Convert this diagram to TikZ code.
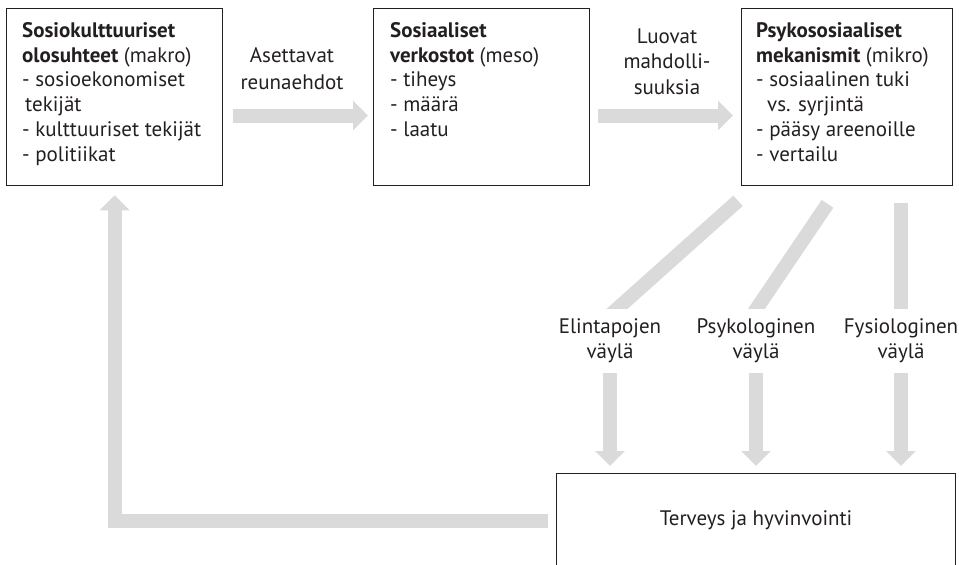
\documentclass[tikz,border=0pt]{standalone}
\usepackage{fontspec}
\setmainfont{PT Sans}
\usetikzlibrary{arrows.meta,calc}

\definecolor{shaft}{HTML}{DADADA}
\definecolor{ink}{HTML}{231F20}

\tikzset{
  frame/.style={draw=ink, line width=1.3pt, inner sep=0pt, anchor=north west},
  body/.style={anchor=north west, inner sep=0pt, align=left, text=ink,
    font=\fontsize{21}{24.8}\selectfont},
  lbl/.style={anchor=north, inner sep=0pt, align=center, text=ink},
  bar/.style={draw=shaft, line width=14pt},
  flow/.style={bar, -{Triangle[width=29pt,length=15pt]}}
}

\begin{document}
\begin{tikzpicture}[x=1pt, y=-1pt]
\useasboundingbox (0,0) rectangle (959,565);

% three level boxes
\node[frame, minimum width=216pt, minimum height=177pt] (macro) at (6,8) {};
\node[frame, minimum width=216pt, minimum height=177pt] (meso)  at (373,8) {};
\node[frame, minimum width=211pt, minimum height=177pt] (micro) at (741,8) {};

\node[body] (macrotxt) at ($(macro.north west)+(16,0)$)
  {\rule{0pt}{29pt}\textbf{Sosiokulttuuriset}\\
   \textbf{olosuhteet} (makro)\\
   - sosioekonomiset\\
   \hspace*{3pt}tekijät\\
   - kulttuuriset tekijät\\
   - politiikat};
\node[body] (mesotxt) at ($(meso.north west)+(17,0)$)
  {\rule{0pt}{29pt}\textbf{Sosiaaliset}\\
   \textbf{verkostot} (meso)\\
   - tiheys\\
   - määrä\\
   - laatu};
\node[body] (microtxt) at ($(micro.north west)+(15,0)$)
  {\rule{0pt}{29pt}\textbf{Psykososiaaliset}\\
   \textbf{mekanismit} (mikro)\\
   - sosiaalinen tuki\\
   \hspace*{11pt}vs. syrjintä\\
   - pääsy areenoille\\
   - vertailu};

% outcome box (runs off the lower edge)
\node[frame, minimum width=399pt, minimum height=94pt, text=ink,
      font=\fontsize{21}{25}\selectfont] (health) at (556,473)
  {Terveys ja hyvinvointi};

% arrow labels
\node[lbl, font=\fontsize{21}{27}\selectfont] (setlbl) at (292,42)
  {\rule{0pt}{20pt}Asettavat\\reunaehdot};
\node[lbl, font=\fontsize{21}{25.5}\selectfont] (optlbl) at (667,23)
  {\rule{0pt}{20pt}Luovat\\mahdolli-\\suuksia};
\node[lbl, font=\fontsize{21}{25}\selectfont] (lifelbl) at (610,313)
  {\rule{0pt}{20pt}Elintapojen\\väylä};
\node[lbl, font=\fontsize{21}{25}\selectfont] (psylbl) at (756,313)
  {\rule{0pt}{20pt}Psykologinen\\väylä};
\node[lbl, font=\fontsize{21}{25}\selectfont] (fyslbl) at (901,313)
  {\rule{0pt}{20pt}Fysiologinen\\väylä};

% macro -> meso -> micro
\draw[flow] ($(macro.north east)+(10,107.5)$) -- ($(meso.north west)+(-5,107.5)$);
\draw[flow] ($(meso.north east)+(8,107.5)$) -- ($(micro.north west)+(-8,107.5)$);

% pathway bars leaving the micro box, cut level above the labels
\coordinate (aTop) at ($(micro.south west)+(-3,14.5)$);
\coordinate (aBot) at ($(lifelbl.north)+(8,-5)$);
\coordinate (bTop) at ($(micro.south west)+(86.5,17.5)$);
\coordinate (bBot) at ($(psylbl.north)+(1,-5)$);
\coordinate (cTop) at ($(micro.south west)+(159.5,17)$);
\coordinate (cBot) at ($(fyslbl.north)+(-0.5,-5)$);
\begin{scope}
  \clip (0,150) rectangle (959,308);
  \draw[bar] (aTop) -- ($(aTop)!1.2!(aBot)$);
  \draw[bar] (bTop) -- ($(bTop)!1.2!(bBot)$);
  \draw[bar] (cTop) -- ($(cTop)!1.2!(cBot)$);
\end{scope}

% pathways -> health
\draw[flow, shorten <=10pt, shorten >=7pt] (lifelbl.south) -- (lifelbl.south |- health.north);
\draw[flow, shorten <=10pt, shorten >=7pt] (psylbl.south) -- (psylbl.south |- health.north);
\draw[flow, shorten <=10pt, shorten >=7pt] (fyslbl.south) -- (fyslbl.south |- health.north);

% feedback from health back to the macro level
\draw[flow] ([xshift=-8pt]health.west) -- (health.west -| macro.south)
  -- ([yshift=-9pt]macro.south);
\end{tikzpicture}
\end{document}
